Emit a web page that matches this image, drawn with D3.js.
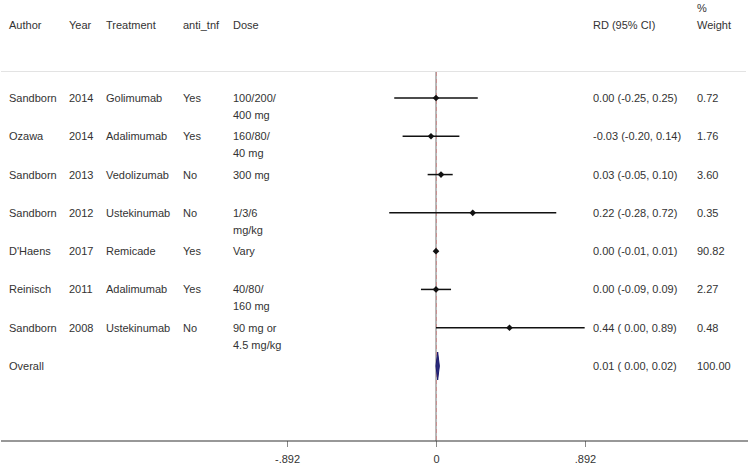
<!DOCTYPE html>
<html><head><meta charset="utf-8">
<script src="https://cdn.jsdelivr.net/npm/d3@7"></script>
<style>body{margin:0;background:#fff}svg{display:block}text{font-family:"Liberation Sans",Arial,sans-serif;font-size:11px;fill:#333}</style>
</head><body>
<svg id="c" width="750" height="470"></svg>
<script>
const authors = ["Sandborn","Ozawa","Sandborn","Sandborn","D'Haens","Reinisch","Sandborn"];
const years = ["2014","2014","2013","2012","2017","2011","2008"];
const treatments = ["Golimumab","Adalimumab","Vedolizumab","Ustekinumab","Remicade","Adalimumab","Ustekinumab"];
const antiTnf = ["Yes","Yes","No","No","Yes","Yes","No"];
const doses = [["100/200/","400 mg"],["160/80/","40 mg"],["300 mg"],["1/3/6","mg/kg"],["Vary"],["40/80/","160 mg"],["90 mg or","4.5 mg/kg"]];
const rd = [0.00,-0.03,0.03,0.22,0.00,0.00,0.44];
const lo = [-0.25,-0.20,-0.05,-0.28,-0.01,-0.09,0.00];
const hi = [0.25,0.14,0.10,0.72,0.01,0.09,0.89];
const weights = [0.72,1.76,3.60,0.35,90.82,2.27,0.48];
const overall = {rd:0.01, lo:0.00, hi:0.02, weight:100.00};
const tickValues = [-0.892, 0, 0.892];
const tickLabels = ["-.892","0",".892"];
const headers = [["Author",9],["Year",69],["Treatment",106],["anti_tnf",183],["Dose",233]];

const svg = d3.select("#c");
const x = d3.scaleLinear().domain([-0.892,0.892]).range([287,585]);
const rows = authors.map((a,i)=>i);
const y = d3.scaleLinear().domain([0,7]).range([98,366]);
const f2 = v => d3.format(".2f")(v).replace("\u2212","-");
const pad = v => (v<0?"":" ")+f2(v);
const ciText = (r,l,h)=> `${f2(r)} (${pad(l)}, ${f2(h)})`;

// header
headers.forEach(([t,px])=>svg.append("text").attr("x",px).attr("y",29).text(t));
svg.append("text").attr("x",593).attr("y",29).text("RD (95% CI)");
svg.append("text").attr("x",697).attr("y",12).text("%");
svg.append("text").attr("x",697).attr("y",29).text("Weight");

// separator
svg.append("line").attr("x1",1).attr("x2",746).attr("y1",71.5).attr("y2",71.5).attr("stroke","#e3e3e3").attr("stroke-width",1);

// null line
svg.append("line").attr("x1",x(0)).attr("x2",x(0)).attr("y1",72).attr("y2",441).attr("stroke","#8a8a8a").attr("stroke-width",1.2);
// overall dashed line
svg.append("line").attr("x1",x(0)+0.5).attr("x2",x(0)+0.5).attr("y1",72).attr("y2",441).attr("stroke","#c89090").attr("stroke-width",1).attr("stroke-dasharray","4,3");

// axis
const axis = d3.axisBottom(x).tickValues(tickValues).tickFormat((d,i)=>tickLabels[i]).tickSize(6).tickSizeOuter(0);
const ag = svg.append("g").attr("transform","translate(0,441)").call(axis);
ag.select(".domain").remove();
ag.selectAll(".tick line").attr("stroke","#888");
ag.selectAll(".tick text").attr("dy","1.2em").style("font-family","Liberation Sans, Arial, sans-serif").style("font-size","11px").attr("fill","#333");
svg.append("line").attr("x1",1).attr("x2",748).attr("y1",441).attr("y2",441).attr("stroke","#333").attr("stroke-width",1.2);

// rows
rows.forEach(i=>{
  const yy = y(i);
  svg.append("text").attr("x",9).attr("y",yy+4).text(authors[i]);
  svg.append("text").attr("x",69).attr("y",yy+4).text(years[i]);
  svg.append("text").attr("x",106).attr("y",yy+4).text(treatments[i]);
  svg.append("text").attr("x",183).attr("y",yy+4).text(antiTnf[i]);
  doses[i].forEach((d,k)=>svg.append("text").attr("x",233).attr("y",yy+4+k*17).text(d));
  svg.append("text").attr("x",593).attr("y",yy+4).text(ciText(rd[i],lo[i],hi[i]));
  svg.append("text").attr("x",697).attr("y",yy+4).text(f2(weights[i]));
  svg.append("line").attr("x1",x(lo[i])).attr("x2",x(hi[i])).attr("y1",yy).attr("y2",yy).attr("stroke","#111").attr("stroke-width",1.5);
  svg.append("path").attr("d",d3.symbol(d3.symbolDiamond2,28)()).attr("transform",`translate(${x(rd[i])},${yy})`).attr("fill","#111");
});

// overall
const yo = y(7);
svg.append("text").attr("x",9).attr("y",yo+4).text("Overall");
svg.append("text").attr("x",593).attr("y",yo+4).text(ciText(overall.rd,overall.lo,overall.hi));
svg.append("text").attr("x",697).attr("y",yo+4).text(f2(overall.weight));
svg.append("path").attr("d",`M${x(overall.lo)},${yo} L${x(overall.rd)},${yo-14} L${x(overall.hi)},${yo} L${x(overall.rd)},${yo+14} Z`).attr("fill","#2a2a7a").attr("stroke","#1a1a6e").attr("stroke-width",1);
</script>
</body></html>
